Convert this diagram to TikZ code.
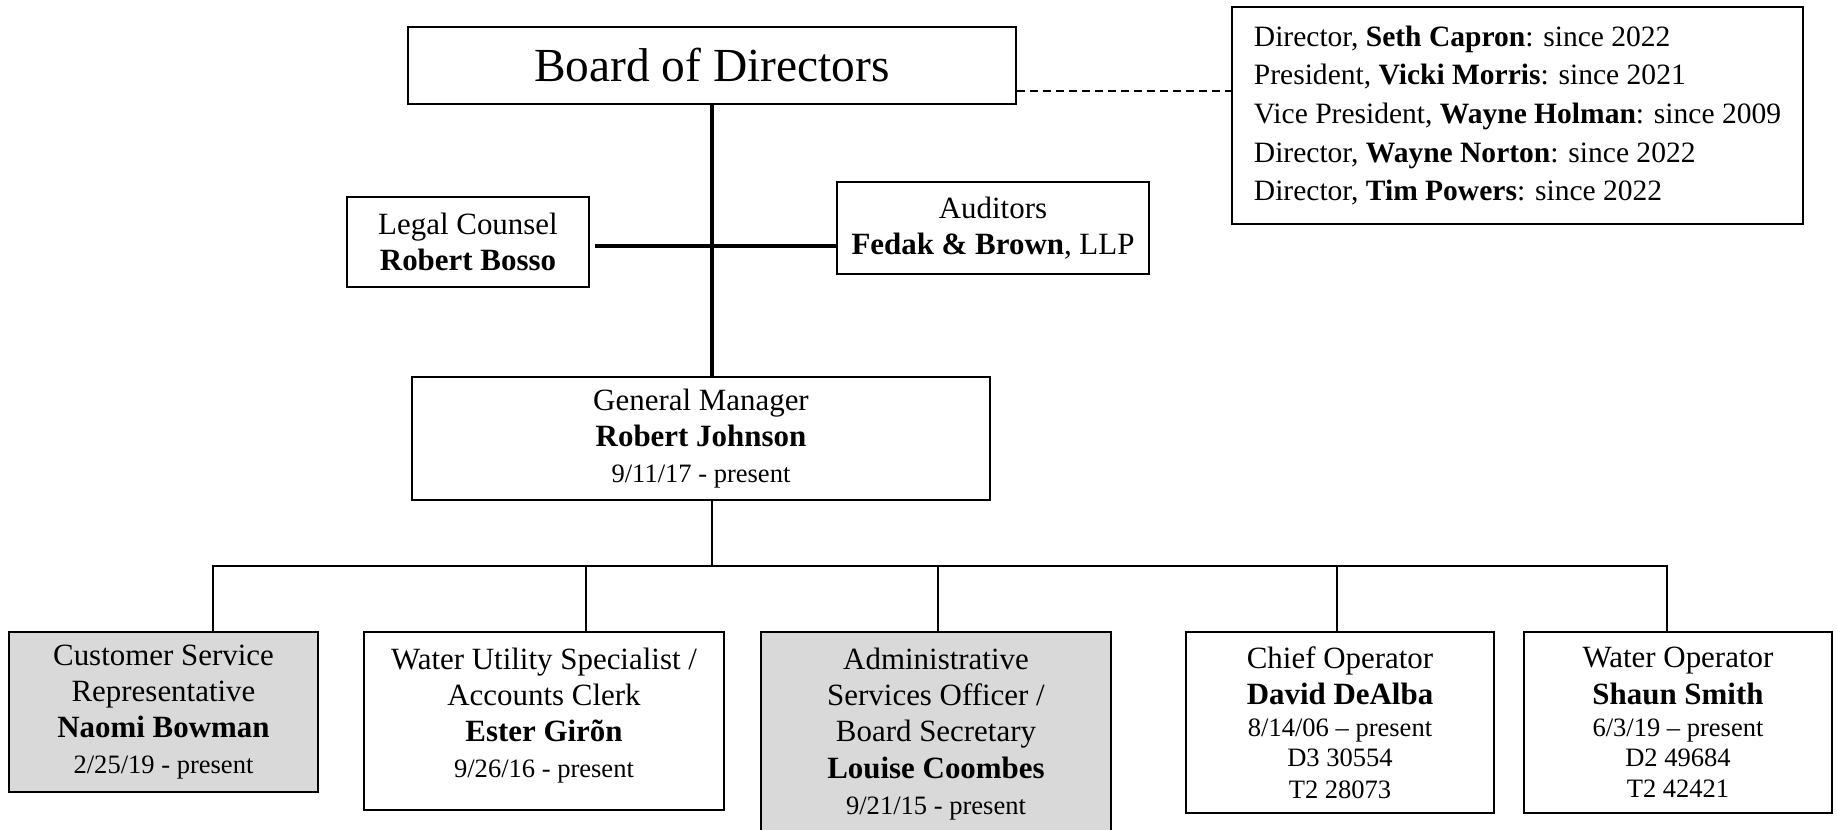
\documentclass[tikz,border=0pt]{standalone}
\usepackage{fontspec}
\setmainfont{Liberation Serif}
\usetikzlibrary{positioning}
\definecolor{boxgray}{RGB}{217,217,217}
\newcommand{\datefont}{\fontsize{15.1}{16.8}\selectfont}
\tikzset{
orgbox/.style={draw, line width=1.1pt, rectangle, inner sep=0pt, align=center, font=\fontsize{17.6}{20.6}\selectfont}, % every box of the chart
grayfill/.style={fill=boxgray}, % shaded boxes on the bottom row
trunk/.style={line width=2.3pt}, % thick line under the board
branch/.style={line width=1.1pt, line cap=rect}, % thin lines to the staff
dashlink/.style={line width=0.9pt, dash pattern=on 0.16cm off 0.1cm}, % board to members
}

\begin{document}
\begin{tikzpicture}
  \useasboundingbox (0,0) rectangle (36.74,16.6);
  % top
  \node[orgbox, minimum width=12.16cm, minimum height=1.54cm, font=\fontsize{27}{30}\selectfont] (board) at (14.24,15.29) {Board of Directors};
  \node[orgbox, align=left, minimum width=11.42cm, minimum height=4.34cm, font=\fontsize{16.8}{22}\selectfont] (members) at (30.35,14.29)
    {Director, \textbf{Seth Capron}: since 2022\\
     President, \textbf{Vicki Morris}: since 2021\\
     Vice President, \textbf{Wayne Holman}: since 2009\\
     Director, \textbf{Wayne Norton}: since 2022\\
     Director, \textbf{Tim Powers}: since 2022};
  \node[orgbox, minimum width=4.84cm, minimum height=1.8cm] (legal) at (9.36,11.76) {Legal Counsel\\\textbf{Robert Bosso}};
  \node[orgbox, minimum width=6.24cm, minimum height=1.84cm] (auditors) at (19.86,12.04) {Auditors\\\textbf{Fedak \& Brown}, LLP};
  \node[orgbox, minimum width=11.56cm, minimum height=2.46cm] (gm) at (14.02,7.83) {General Manager\\\textbf{Robert Johnson}\\\datefont 9/11/17 - present};
  % staff
  \node[orgbox, grayfill, anchor=north, minimum width=6.18cm, minimum height=3.2cm] (cust) at (3.27,3.98)
    {Customer Service\\Representative\\\textbf{Naomi Bowman}\\\datefont 2/25/19 - present};
  \node[orgbox, anchor=north, minimum width=7.2cm, minimum height=3.56cm] (wus) at (10.88,3.98)
    {Water Utility Specialist /\\Accounts Clerk\\\textbf{Ester Girõn}\\\datefont 9/26/16 - present\\[-0.4cm]\mbox{}};
  \node[orgbox, grayfill, anchor=north, minimum width=7cm, minimum height=4.08cm] (adm) at (18.72,3.98)
    {Administrative\\Services Officer /\\Board Secretary\\\textbf{Louise Coombes}\\\datefont 9/21/15 - present};
  \node[orgbox, anchor=north, minimum width=6.16cm, minimum height=3.62cm] (chief) at (26.8,3.98)
    {Chief Operator\\\textbf{David DeAlba}\\[-0.08cm]\datefont 8/14/06 – present\\[-0.12cm]\datefont D3 30554\\[-0.1cm]\datefont T2 28073};
  \node[orgbox, anchor=north, minimum width=6.16cm, minimum height=3.62cm] (wop) at (33.56,3.98)
    {Water Operator\\\textbf{Shaun Smith}\\[-0.08cm]\datefont 6/3/19 – present\\[-0.12cm]\datefont D2 49684\\[-0.1cm]\datefont T2 42421};

  % lines
  \coordinate (dashstart) at ([yshift=0.28cm]board.south east);
  \draw[dashlink] (dashstart) -- (dashstart -| members.west);
  \draw[trunk] (board.south) -- (board.south |- gm.north);
  \coordinate (cross) at (14.24,11.68);
  \draw[trunk] ([xshift=0.1cm]legal.east |- cross) -- (auditors.west |- cross);
  \coordinate (bus) at (14.24,5.28);
  \draw[branch] (gm.south -| bus) -- (bus);
  \foreach \n/\x in {cust/4.26, wus/11.72, adm/18.76, chief/26.74, wop/33.34} {
    \coordinate (tap\n) at (\x,5.28);
    \draw[branch] (tap\n) -- (\n.north -| tap\n);
  }
  \draw[branch] (tapcust) -- (tapwop);
\end{tikzpicture}
\end{document}
